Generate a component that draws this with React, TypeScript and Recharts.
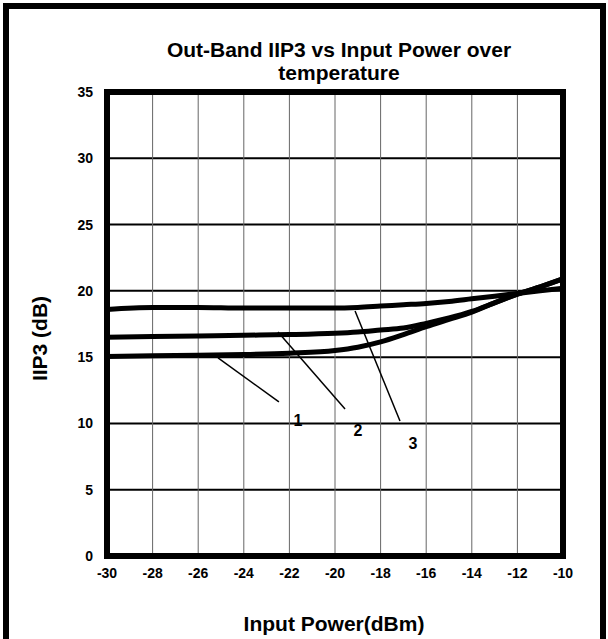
import React from 'react';
import {
  LineChart, Line, XAxis, YAxis, CartesianGrid, ReferenceArea, ReferenceLine, ReferenceDot,
} from 'recharts';

// input power (dBm)
const inputPower = [-30, -28, -26, -24, -22, -20, -19, -18, -17, -16, -15, -14, -13, -12, -11, -10];
// IIP3 (dB) per temperature curve
const curve1 = [15.05, 15.1, 15.15, 15.2, 15.3, 15.5, 15.75, 16.15, 16.7, 17.3, 17.85, 18.4, 19.1, 19.75, 20.3, 20.9];
const curve2 = [16.5, 16.55, 16.6, 16.65, 16.7, 16.8, 16.9, 17.05, 17.2, 17.55, 17.95, 18.45, 19.1, 19.75, 20.3, 20.9];
const curve3 = [18.6, 18.75, 18.75, 18.7, 18.7, 18.7, 18.75, 18.85, 18.95, 19.05, 19.2, 19.4, 19.6, 19.8, 20.0, 20.2];

const xTicks = [-30, -28, -26, -24, -22, -20, -18, -16, -14, -12, -10];
const yTicks = [0, 5, 10, 15, 20, 25, 30, 35];

// callout lines: [x1, y1, x2, y2] and label position
const calloutNames = ['1', '2', '3'];
const calloutLines = [
  [-25.13, 14.94, -22.46, 11.62],
  [-22.5, 16.9, -19.56, 11.09],
  [-19.12, 18.48, -17.15, 10.18],
];
const calloutText = [
  [-21.62, 10.26],
  [-18.99, 9.5],
  [-16.58, 8.52],
];

const data = inputPower.map((x, i) => ({ x, c1: curve1[i], c2: curve2[i], c3: curve3[i] }));

const font = '"Liberation Sans", Arial, sans-serif';
const tickStyle = { fontSize: 14, fontWeight: 700, fill: '#000', fontFamily: font };

export default function App() {
  return (
    <div style={{ position: 'absolute', left: 0, top: 0, width: 608, height: 639, background: '#fff', fontFamily: font }}>
      <div style={{
        position: 'absolute', left: 3, top: 3, width: 591, height: 650,
        borderLeft: '6px solid #000', borderTop: '6px solid #000', borderRight: '6px solid #000',
      }} />
      <div style={{
        position: 'absolute', left: 89, top: 38, width: 500, textAlign: 'center',
        fontSize: 21, fontWeight: 700, lineHeight: '23px',
      }}>
        Out-Band IIP3 vs Input Power over<br />temperature
      </div>
      <div style={{
        position: 'absolute', left: 39 - 60, top: 339 - 12, width: 120, textAlign: 'center',
        fontSize: 21, fontWeight: 700, lineHeight: '23px', transform: 'rotate(-90deg)',
      }}>
        IIP3 (dB)
      </div>
      <div style={{
        position: 'absolute', left: 334 - 150, top: 612, width: 300, textAlign: 'center',
        fontSize: 21, fontWeight: 700, lineHeight: '23px',
      }}>
        Input Power(dBm)
      </div>
      <LineChart
        width={608}
        height={639}
        data={data}
        margin={{ top: 92, right: 45, bottom: 53, left: 57 }}
        style={{ position: 'absolute', left: 0, top: 0 }}
      >
        <CartesianGrid vertical={false} stroke="#000" strokeWidth={2} />
        <CartesianGrid horizontal={false} stroke="#666" strokeWidth={1} />
        <XAxis
          dataKey="x" type="number" domain={[-30, -10]} ticks={xTicks} height={30}
          axisLine={false} tickLine={false} tickSize={0} tickMargin={12} tick={tickStyle} interval={0}
        />
        <YAxis
          type="number" domain={[0, 35]} ticks={yTicks} width={50}
          axisLine={false} tickLine={false} tickSize={0} tickMargin={14} tick={tickStyle} interval={0}
        />
        <Line type="monotone" dataKey="c1" stroke="#000" strokeWidth={5} dot={false} isAnimationActive={false} />
        <Line type="monotone" dataKey="c2" stroke="#000" strokeWidth={5} dot={false} isAnimationActive={false} />
        <Line type="monotone" dataKey="c3" stroke="#000" strokeWidth={5} dot={false} isAnimationActive={false} />
        {calloutLines.map((s, i) => (
          <ReferenceLine
            key={'l' + i}
            segment={[{ x: s[0], y: s[1] }, { x: s[2], y: s[3] }]}
            stroke="#000" strokeWidth={1.5}
          />
        ))}
        {calloutText.map((p, i) => (
          <ReferenceDot
            key={'t' + i} x={p[0]} y={p[1]} r={0} fill="none" stroke="none"
            label={{ value: calloutNames[i], position: 'center', fontSize: 16, fontWeight: 700, fill: '#000', fontFamily: font }}
          />
        ))}
        <ReferenceArea x1={-30} x2={-10} y1={0} y2={35} fill="none" stroke="#000" strokeWidth={6} ifOverflow="visible" />
      </LineChart>
    </div>
  );
}
